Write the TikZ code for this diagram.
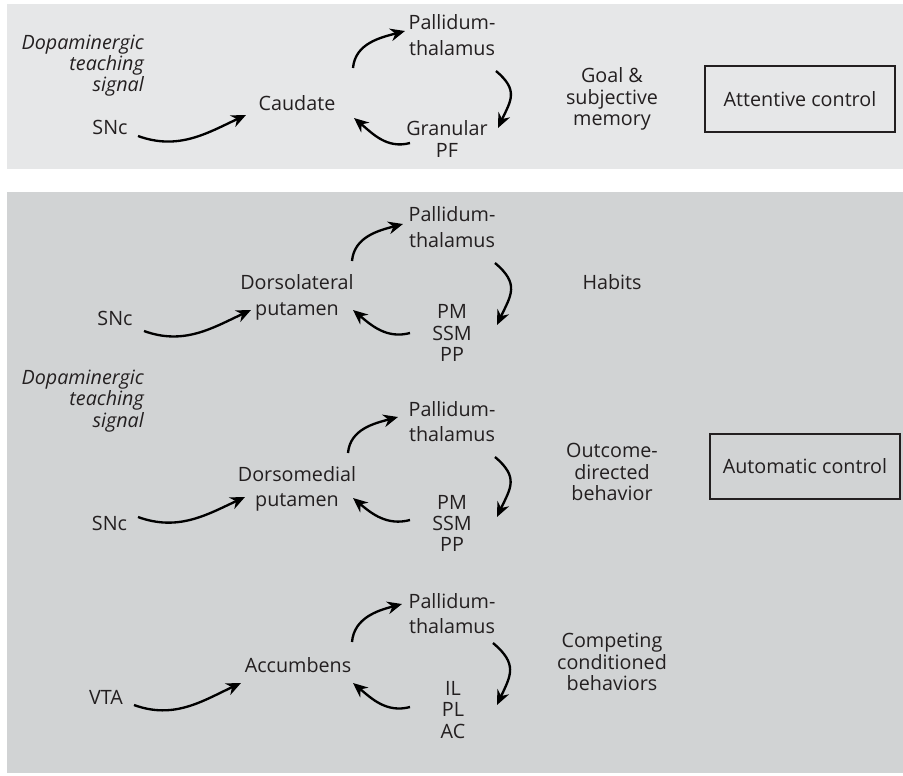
\documentclass[tikz,border=0pt]{standalone}
\usepackage{fontspec}
\setmainfont{Open Sans}
\usetikzlibrary{arrows.meta,calc}
\definecolor{ink}{HTML}{231F20}
\definecolor{paneltop}{HTML}{E6E7E8}
\definecolor{panelbot}{HTML}{D1D3D4}

\begin{document}
\begin{tikzpicture}[x=0.75pt,y=0.75pt,line width=1.75pt,>={Stealth[length=11pt,width=9.5pt]},
    every node/.style={inner sep=0pt,text=ink,align=center,font=\fontsize{14.8}{16}\selectfont},
    wide/.style={font=\fontsize{14.8}{19}\selectfont},
    teach/.style={anchor=east,align=right,font=\fontsize{14.8}{16}\selectfont\itshape},
    ctrl/.style={draw=ink,line width=1.5pt,minimum width=143pt,minimum height=49pt}]
        \useasboundingbox (0,0) rectangle (903,-775);
        \fill[paneltop] (7,-4) rectangle (903,-169);
        \fill[panelbot] (7,-192) rectangle (903,-773);

        \node[teach] at (145,-65.5) (D0) {Dopaminergic\\teaching\\signal};
        \node at (110,-127) (S0) {SNc};
        \node at (297,-103) (N0) {Caudate};
        \node[wide] at (452,-35) (P0) {Pallidum-\\thalamus};
        \node at (447,-139) (C0) {Granular\\PF};
        \node at (612,-99) (F0) {Goal \&\\subjective\\memory};
        \node[ctrl] at (800,-99) (R0) {Attentive control};

        \draw [->] ($(S0)+(28,-9)$) to[out=-20,in=205] ($(N0)+(-51,-12)$);
        \draw [->] ($(N0)+(56,35)$) to[out=85,in=195] ($(P0)+(-47,4)$);
        \draw [->] ($(P0)+(44,-36)$) to[out=-40,in=65,looseness=1.35] ($(C0)+(51,11)$);
        \draw [->] ($(C0)+(-37,-4)$) to[out=195,in=-40] ($(N0)+(57,-15)$);

        \node at (115,-318) (S1) {SNc};
        \node[wide] at (297,-297.5) (N1) {Dorsolateral\\putamen};
        \node[wide] at (452,-227) (P1) {Pallidum-\\thalamus};
        \node at (452,-333) (C1) {PM\\SSM\\PP};
        \node at (612,-282) (F1) {Habits};

        \draw [->] ($(S1)+(29,-13)$) to[out=-20,in=205] ($(N1)+(-46,-12.5)$);
        \draw [->] ($(N1)+(55,36.5)$) to[out=85,in=195] ($(P1)+(-49,3)$);
        \draw [->] ($(P1)+(43,-36)$) to[out=-40,in=65,looseness=1.35] ($(C1)+(45,8)$);
        \draw [->] ($(C1)+(-42,0)$) to[out=195,in=-40] ($(N1)+(56,-12.5)$);

        \node[teach] at (145,-401) (D1) {Dopaminergic\\teaching\\signal};
        \node at (109.5,-523) (S2) {SNc};
        \node[wide] at (297,-489) (N2) {Dorsomedial\\putamen};
        \node[wide] at (452,-421.5) (P2) {Pallidum-\\thalamus};
        \node at (452,-523.5) (C2) {PM\\SSM\\PP};
        \node at (612,-472) (F2) {Outcome-\\directed\\behavior};
        \node[ctrl] at (805,-466.5) (R1) {Automatic control};

        \draw [->] ($(S2)+(28.5,6)$) to[out=-20,in=205] ($(N2)+(-52,-8)$);
        \draw [->] ($(N2)+(51,36)$) to[out=85,in=195] ($(P2)+(-54,4.5)$);
        \draw [->] ($(P2)+(43,-35.5)$) to[out=-40,in=65,looseness=1.35] ($(C2)+(45,6.5)$);
        \draw [->] ($(C2)+(-42,3.5)$) to[out=195,in=-40] ($(N2)+(56,-9)$);

        \node at (106,-697) (S3) {VTA};
        \node at (298,-665) (N3) {Accumbens};
        \node[wide] at (452,-613.5) (P3) {Pallidum-\\thalamus};
        \node at (453,-710) (C3) {IL\\PL\\AC};
        \node at (612,-662) (F3) {Competing\\conditioned\\behaviors};

        \draw [->] ($(S3)+(28,-8)$) to[out=-20,in=205] ($(N3)+(-57,-18)$);
        \draw [->] ($(N3)+(54,23)$) to[out=85,in=195] ($(P3)+(-50,9.5)$);
        \draw [->] ($(P3)+(41,-29.5)$) to[out=-40,in=65,looseness=1.35] ($(C3)+(44,5)$);
        \draw [->] ($(C3)+(-43,3)$) to[out=195,in=-40] ($(N3)+(55,-18)$);
    \end{tikzpicture}
\end{document}
